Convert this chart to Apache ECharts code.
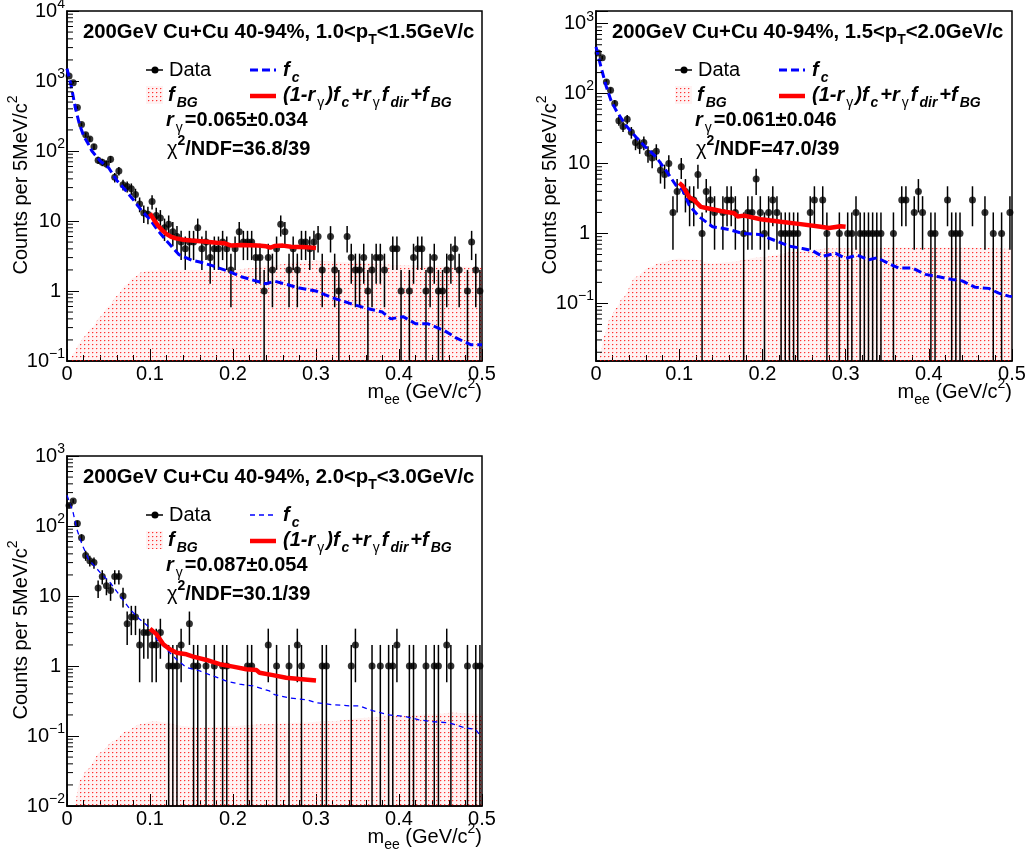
<!DOCTYPE html>
<html><head><meta charset="utf-8">
<script src="https://cdn.jsdelivr.net/npm/echarts@6/dist/echarts.min.js"></script>
<style>html,body{margin:0;padding:0;background:#fff}#c{width:1027px;height:859px}</style>
</head><body><div id="c"></div><script>
const FONT = '"Liberation Sans", Arial, Helvetica, sans-serif';

// ---------------- data ----------------
// 5 MeV bins from 0 to 0.5 GeV/c^2 (bin centres)
const binCenters = Array.from({length: 100}, (_, i) => +(0.0025 + 0.005 * i).toFixed(4));

// panel 1 : 1.0 < pT < 1.5
const p1Counts = [
 1180, 946, 417, 240, 170, 148, 115, 74, 69, 65,
 76, 42, 52, 33, 31, 29, 24, 17.5, 13, 12.5,
 19, 12, 11, 8, 9, 7, 6, 5, 4, 5,
 5, 8, 4, 5, 3, 4, 4, 5, 4, 2,
 4, 7, 5, 5, 5, 3, 3, 1, 3, 2,
 4, 9, 7, 2, 4, 2, 5, 5, 4, 5,
 6, 2, null, 6, 2, 1, null, 6, 3, 2,
 2, 3, 1, 2, 3, 3, 2, null, 4, 4,
 1, null, 1, 3, 4, 4, 1, 2, 3, 1,
 1, 2, 3, 4, 2, null, 1, 5, 2, 1];
const p1FcX = [0, 0.005, 0.01, 0.015, 0.02, 0.025, 0.03, 0.04, 0.05, 0.06, 0.07, 0.08, 0.09, 0.1, 0.11, 0.12, 0.135, 0.15, 0.16, 0.175, 0.195, 0.21, 0.225, 0.24, 0.25, 0.265, 0.28, 0.3, 0.32, 0.34, 0.36, 0.38, 0.39, 0.405, 0.42, 0.435, 0.455, 0.47, 0.487, 0.5];
const p1FcY = [1500, 850, 420, 240, 165, 130, 100, 72, 58, 38, 28, 20, 14, 10.5, 7.2, 5.2, 3.3, 2.75, 2.6, 2.3, 1.9, 1.6, 1.42, 1.27, 1.38, 1.24, 1.1, 1.0, 0.8, 0.67, 0.57, 0.5, 0.4, 0.43, 0.34, 0.34, 0.27, 0.21, 0.17, 0.17];
const p1FitX = [0.1, 0.105, 0.11, 0.115, 0.12, 0.125, 0.13, 0.14, 0.15, 0.165, 0.18, 0.19, 0.198, 0.21, 0.22, 0.23, 0.24, 0.245, 0.25, 0.26, 0.27, 0.28, 0.29, 0.3];
const p1FitY = [12.8, 10.3, 8.5, 7.3, 6.5, 6.0, 5.7, 5.4, 5.25, 5.1, 4.9, 4.8, 4.45, 4.55, 4.5, 4.45, 4.35, 4.15, 4.4, 4.45, 4.3, 4.25, 4.2, 4.1];
const p1BgX = [0.004, 0.008, 0.015, 0.02, 0.03, 0.04, 0.05, 0.06, 0.07, 0.08, 0.09, 0.1, 0.12, 0.15, 0.18, 0.2, 0.22, 0.25, 0.28, 0.3, 0.33, 0.36, 0.4, 0.45, 0.5];
const p1BgY = [0.1, 0.13, 0.18, 0.22, 0.3, 0.43, 0.6, 0.85, 1.2, 1.55, 1.85, 1.97, 2.0, 2.0, 1.95, 2.0, 2.1, 2.35, 2.6, 2.7, 2.6, 2.5, 2.35, 2.25, 2.2];

// panel 2 : 1.5 < pT < 2.0
const p2Counts = [
 380, 327, 147, 112, 72, 41, 34, 43, 28, 20,
 18, 20, 14, 12, 15, 8, 7, 10, 2, 4,
 9, 4, 3, 3, 7, 1, 4, 3, 2, null,
 2, 3, 3, 2, null, 1, 2, 2, 6, 2,
 1, 2, 3, 2, 1, 1, 1, 1, 1, null,
 null, 2, 3, null, 3, 1, null, null, 1, null,
 1, 1, 2, 1, 1, 1, 1, 1, 1, null,
 null, 1, null, 3, 3, null, 2, 4, 2, null,
 1, 1, null, null, 3, 1, 1, 1, null, null,
 3, null, null, 2, null, 1, null, 1, null, 2];
const p2FcX = [0, 0.006, 0.012, 0.018, 0.024, 0.036, 0.048, 0.06, 0.072, 0.084, 0.096, 0.104, 0.112, 0.124, 0.14, 0.16, 0.176, 0.196, 0.212, 0.232, 0.248, 0.26, 0.272, 0.288, 0.3, 0.314, 0.328, 0.338, 0.352, 0.364, 0.38, 0.396, 0.412, 0.428, 0.44, 0.456, 0.472, 0.484, 0.496, 0.5];
const p2FcY = [465, 240, 130, 80, 58, 35, 24, 17, 12.5, 8, 4.9, 4.2, 2.54, 1.73, 1.25, 1.14, 1.0, 0.97, 0.82, 0.66, 0.61, 0.57, 0.47, 0.52, 0.44, 0.49, 0.42, 0.45, 0.37, 0.32, 0.32, 0.26, 0.24, 0.22, 0.21, 0.17, 0.164, 0.14, 0.127, 0.125];
const p2FitX = [0.1, 0.104, 0.108, 0.112, 0.118, 0.126, 0.134, 0.15, 0.166, 0.17, 0.178, 0.198, 0.222, 0.246, 0.27, 0.28, 0.294, 0.3];
const p2FitY = [5.3, 4.8, 4.0, 3.3, 3.0, 2.4, 2.3, 2.1, 1.95, 1.75, 1.8, 1.6, 1.47, 1.36, 1.25, 1.2, 1.27, 1.25];
const p2BgX = [0.004, 0.006, 0.01, 0.016, 0.024, 0.032, 0.048, 0.064, 0.08, 0.1, 0.12, 0.14, 0.16, 0.2, 0.24, 0.28, 0.32, 0.36, 0.4, 0.44, 0.5];
const p2BgY = [0.015, 0.0215, 0.035, 0.058, 0.085, 0.12, 0.24, 0.33, 0.39, 0.44, 0.42, 0.37, 0.39, 0.46, 0.55, 0.61, 0.61, 0.63, 0.63, 0.63, 0.6];

// panel 3 : 2.0 < pT < 3.0
const p3Counts = [
 197, 228, 109, 68, 38, 32, 30, 13, 19, 14,
 12, 19, 19, 10, 4, 5, 5, 2, 3, 3,
 2, 2, 3, null, 1, 1, 1, 2, null, 4,
 1, 1, null, 1, null, 1, null, 1, 1, null,
 null, null, null, 1, 1, null, null, null, 2, null,
 1, null, null, 1, null, 2, 1, null, null, null,
 null, 1, 1, null, null, null, null, null, 1, 2,
 null, null, null, 1, null, 1, null, 1, 1, 2,
 null, null, 1, 1, null, null, 1, null, 1, 1,
 null, 2, 1, null, null, null, 1, null, 1, 1];
const p3FcX = [0, 0.007, 0.012, 0.018, 0.026, 0.04, 0.052, 0.064, 0.076, 0.088, 0.1, 0.108, 0.12, 0.132, 0.144, 0.16, 0.176, 0.192, 0.208, 0.224, 0.244, 0.25, 0.268, 0.288, 0.3, 0.32, 0.34, 0.352, 0.368, 0.388, 0.408, 0.424, 0.44, 0.46, 0.48, 0.492, 0.497, 0.5];
const p3FcY = [275, 163, 89, 55, 33.5, 21.6, 15.5, 10, 6.45, 4.6, 3.5, 2.4, 1.73, 1.24, 0.95, 0.85, 0.72, 0.61, 0.55, 0.52, 0.44, 0.39, 0.35, 0.33, 0.3, 0.28, 0.27, 0.27, 0.23, 0.2, 0.19, 0.17, 0.16, 0.155, 0.13, 0.125, 0.105, 0.1];
const p3FitX = [0.1, 0.108, 0.116, 0.124, 0.132, 0.144, 0.152, 0.168, 0.184, 0.2, 0.216, 0.228, 0.232, 0.248, 0.264, 0.28, 0.3];
const p3FitY = [3.4, 2.83, 2.04, 1.73, 1.55, 1.47, 1.36, 1.22, 1.06, 0.98, 0.9, 0.88, 0.8, 0.74, 0.68, 0.65, 0.62];
const p3BgX = [0.01, 0.016, 0.024, 0.04, 0.056, 0.072, 0.088, 0.104, 0.12, 0.14, 0.16, 0.2, 0.24, 0.28, 0.32, 0.36, 0.4, 0.44, 0.464, 0.5];
const p3BgY = [0.01, 0.024, 0.033, 0.058, 0.085, 0.118, 0.147, 0.164, 0.155, 0.139, 0.132, 0.139, 0.147, 0.155, 0.164, 0.183, 0.193, 0.204, 0.215, 0.204];

// texts
const ptLow = ['1.0', '1.5', '2.0'];
const ptHigh = ['1.5', '2.0', '3.0'];
const rGamma = ['0.065\u00b10.034', '0.061\u00b10.046', '0.087\u00b10.054'];
const chi2 = ['36.8/39', '47.0/39', '30.1/39'];
const yRanges = [[0.1, 10000], [0.015, 1520], [0.01, 1000]];

// ---------------- layout / style ----------------
const grids = [
  {left: 67, top: 11, width: 415, height: 350},
  {left: 596, top: 11, width: 416, height: 350},
  {left: 67, top: 456, width: 415, height: 350}
];
const panels = [
  {counts: p1Counts, fcX: p1FcX, fcY: p1FcY, fitX: p1FitX, fitY: p1FitY, bgX: p1BgX, bgY: p1BgY, fcW: 3, fcDash: [8, 4]},
  {counts: p2Counts, fcX: p2FcX, fcY: p2FcY, fitX: p2FitX, fitY: p2FitY, bgX: p2BgX, bgY: p2BgY, fcW: 3, fcDash: [8, 4]},
  {counts: p3Counts, fcX: p3FcX, fcY: p3FcY, fitX: p3FitX, fitY: p3FitY, bgX: p3BgX, bgY: p3BgY, fcW: 1.3, fcDash: [5, 4]}
];

function makePattern() {
  const c = document.createElement('canvas');
  c.width = 4; c.height = 4;
  const g = c.getContext('2d');
  g.fillStyle = 'rgba(255,0,0,0.05)';
  g.fillRect(0, 0, 4, 4);
  g.fillStyle = 'rgba(255,0,0,0.8)';
  g.fillRect(0, 0, 1, 1);
  g.fillStyle = 'rgba(255,0,0,0.25)';
  g.fillRect(1, 0, 1, 1);
  g.fillStyle = 'rgba(255,0,0,0.15)';
  g.fillRect(0, 1, 1, 1);
  return c;
}
const PAT = {image: makePattern(), repeat: 'repeat'};

const RICH = {
  t:   {fontFamily: FONT, fontSize: 20.3, fontWeight: 'bold', lineHeight: 30},
  b:   {fontFamily: FONT, fontSize: 20, fontWeight: 'bold', lineHeight: 30},
  bs:  {fontFamily: FONT, fontSize: 14, fontWeight: 'bold', lineHeight: 16, verticalAlign: 'bottom'},
  bi:  {fontFamily: FONT, fontSize: 20, fontWeight: 'bold', fontStyle: 'italic', lineHeight: 30},
  bis: {fontFamily: FONT, fontSize: 14, fontWeight: 'bold', fontStyle: 'italic', lineHeight: 16, verticalAlign: 'bottom', padding: [0, 2, 0, 2]},
  r:   {fontFamily: FONT, fontSize: 20, lineHeight: 30},
  rs:  {fontFamily: FONT, fontSize: 14, lineHeight: 16, verticalAlign: 'bottom'},
  gs:  {fontFamily: FONT, fontSize: 14, lineHeight: 16, verticalAlign: 'bottom', padding: [0, 2, 0, 2]},
  sup: {fontFamily: FONT, fontSize: 14, lineHeight: 14, verticalAlign: 'top'},
  bsup:{fontFamily: FONT, fontSize: 14, fontWeight: 'bold', lineHeight: 14, verticalAlign: 'top'}
};
const YRICH = {
  p: {fontFamily: FONT, fontSize: 20, lineHeight: 28, padding: [0, 4, 0, 0]},
  b: {fontFamily: FONT, fontSize: 20, lineHeight: 28},
  s: {fontFamily: FONT, fontSize: 14, lineHeight: 12, verticalAlign: 'top'}
};
function logLabel(v) {
  const l = Math.log10(v);
  const e = Math.round(l);
  if (Math.abs(l - e) > 1e-3) return '';
  if (e === 0) return '{p|1}';
  if (e === 1) return '{p|10}';
  return '{b|10}{s|' + (e < 0 ? '\u2212' + (-e) : e) + '}';
}

function T(x, y, text, align, extra) {
  return Object.assign({type: 'text', x: x, y: y, z: 100, silent: true,
    style: {text: text, rich: RICH, align: align || 'left', verticalAlign: 'middle', fill: '#000'}}, extra || {});
}

const series = [];
const graphic = [];
panels.forEach((P, k) => {
  const ymin = yRanges[k][0];
  const pts = [], errs = [];
  P.counts.forEach((v, i) => {
    if (v == null) return;
    const e = Math.sqrt(v);
    pts.push([binCenters[i], v]);
    errs.push([binCenters[i], Math.max(v - e, ymin), v + e]);
  });
  const zip = (xs, ys) => xs.map((x, i) => [x, ys[i]]);
  series.push({
    type: 'line', xAxisIndex: k, yAxisIndex: k, data: zip(P.bgX, P.bgY),
    showSymbol: false, smooth: 0.3, smoothMonotone: 'x', silent: true,
    lineStyle: {width: 0, color: 'rgba(0,0,0,0)'},
    areaStyle: {color: PAT, origin: 'start', opacity: 1}, z: 1
  });
  series.push({
    type: 'custom', xAxisIndex: k, yAxisIndex: k, data: errs, silent: true, z: 2,
    encode: {x: 0, y: [1, 2]},
    renderItem: (params, api) => {
      const a = api.coord([api.value(0), api.value(2)]);
      const b = api.coord([api.value(0), api.value(1)]);
      return {type: 'line', shape: {x1: a[0], y1: a[1], x2: b[0], y2: b[1]}, style: {stroke: '#000', lineWidth: 1.5}};
    }
  });
  series.push({
    type: 'scatter', xAxisIndex: k, yAxisIndex: k, data: pts, symbol: 'circle', symbolSize: 7,
    itemStyle: {color: '#000'}, silent: true, z: 3
  });
  series.push({
    type: 'line', xAxisIndex: k, yAxisIndex: k, data: zip(P.fcX, P.fcY), showSymbol: false, silent: true,
    lineStyle: {color: '#0000ff', width: P.fcW, type: P.fcDash}, z: 4
  });
  series.push({
    type: 'line', xAxisIndex: k, yAxisIndex: k, data: zip(P.fitX, P.fitY), showSymbol: false, silent: true,
    lineStyle: {color: '#ff0000', width: 4.5}, z: 5
  });
  // minor log ticks (2..9 per decade)
  const minor = [];
  for (let d = Math.floor(Math.log10(yRanges[k][0])); d <= Math.ceil(Math.log10(yRanges[k][1])); d++) {
    for (let m = 2; m <= 9; m++) {
      const v = m * Math.pow(10, d);
      if (v > yRanges[k][0] && v < yRanges[k][1]) minor.push([0, v]);
    }
  }
  series.push({
    type: 'custom', xAxisIndex: k, yAxisIndex: k, data: minor, silent: true, z: 6,
    encode: {x: 0, y: 1},
    renderItem: (params, api) => {
      const p = api.coord([api.value(0), api.value(1)]);
      return {type: 'line', shape: {x1: p[0], y1: p[1], x2: p[0] + 6, y2: p[1]}, style: {stroke: '#000', lineWidth: 1}};
    }
  });

  // texts and legend
  const g = grids[k], gx = g.left, gy = g.top;
  graphic.push(T(gx + 16, gy + 21.5, '{t|200GeV Cu+Cu 40-94%, ' + ptLow[k] + '<p}{bs|T}{t|<' + ptHigh[k] + 'GeV/c}'));
  graphic.push({type: 'line', z: 100, silent: true, shape: {x1: gx + 79, y1: gy + 59, x2: gx + 96, y2: gy + 59}, style: {stroke: '#000', lineWidth: 1.5}});
  graphic.push({type: 'circle', z: 101, silent: true, shape: {cx: gx + 88, cy: gy + 59, r: 3.5}, style: {fill: '#000'}});
  graphic.push(T(gx + 102, gy + 59, '{r|Data}'));
  graphic.push({type: 'line', z: 100, silent: true, shape: {x1: gx + 183, y1: gy + 59, x2: gx + 209, y2: gy + 59}, style: {stroke: '#0000ff', lineWidth: P.fcW, lineDash: P.fcDash}});
  graphic.push(T(gx + 216, gy + 59, '{bi|f}{bis|c}'));
  graphic.push({type: 'rect', z: 100, silent: true, shape: {x: gx + 79, y: gy + 75, width: 17, height: 18}, style: {fill: PAT}});
  graphic.push(T(gx + 101, gy + 84, '{bi|f}{bis|BG}'));
  graphic.push({type: 'line', z: 100, silent: true, shape: {x1: gx + 183, y1: gy + 85, x2: gx + 209, y2: gy + 85}, style: {stroke: '#ff0000', lineWidth: 4.5}});
  graphic.push(T(gx + 216, gy + 84, '{bi|(1-r}{gs|\u03b3}{bi|)f}{bis|c}{bi|+r}{gs|\u03b3}{bi|f}{bis|dir}{bi|+f}{bis|BG}'));
  graphic.push(T(gx + 99, gy + 109.5, '{bi|r}{gs|\u03b3}{b|=' + rGamma[k] + '}'));
  graphic.push(T(gx + 100, gy + 138, '{r|\u03c7}{bsup|2}{b|/NDF=' + chi2[k] + '}'));
  // axis titles
  graphic.push(T(gx - 46, gy + 174, '{r|Counts per 5MeV/c}{sup|2}', 'center', {rotation: Math.PI / 2}));
  graphic.push(T(gx + g.width, gy + g.height + 31, '{r|m}{rs|ee}{r| (GeV/c}{sup|2}{r|)}', 'right'));
});

const option = {
  animation: false,
  backgroundColor: '#fff',
  grid: grids.map(g => Object.assign({}, g, {show: true, borderColor: '#000', borderWidth: 1.5, backgroundColor: 'transparent', containLabel: false, outerBoundsMode: 'none'})),
  xAxis: grids.map((g, k) => ({
    type: 'value', gridIndex: k, min: 0, max: 0.5, interval: 0.1,
    axisLine: {show: true, onZero: false, lineStyle: {color: '#000', width: 1.5}},
    axisTick: {show: true, inside: true, length: 12, lineStyle: {color: '#000', width: 1}},
    minorTick: {show: true, splitNumber: 5, length: 6, lineStyle: {color: '#000', width: 1}},
    splitLine: {show: false}, minorSplitLine: {show: false},
    axisLabel: {color: '#000', fontFamily: FONT, fontSize: 20, margin: 3, showMinLabel: true, showMaxLabel: true,
      formatter: v => (v === 0 ? '0' : v.toFixed(1))}
  })),
  yAxis: grids.map((g, k) => ({
    type: 'log', logBase: 10, gridIndex: k, min: yRanges[k][0], max: yRanges[k][1],
    axisLine: {show: true, onZero: false, lineStyle: {color: '#000', width: 1.5}},
    axisTick: {show: true, inside: true, length: 12, lineStyle: {color: '#000', width: 1}},
    splitLine: {show: false},
    axisLabel: {color: '#000', margin: 2, showMinLabel: true, showMaxLabel: true, formatter: logLabel, rich: YRICH}
  })),
  series: series,
  graphic: graphic
};
const chart = echarts.init(document.getElementById('c'), null, {renderer: 'canvas'});
chart.setOption(option);
</script></body></html>
